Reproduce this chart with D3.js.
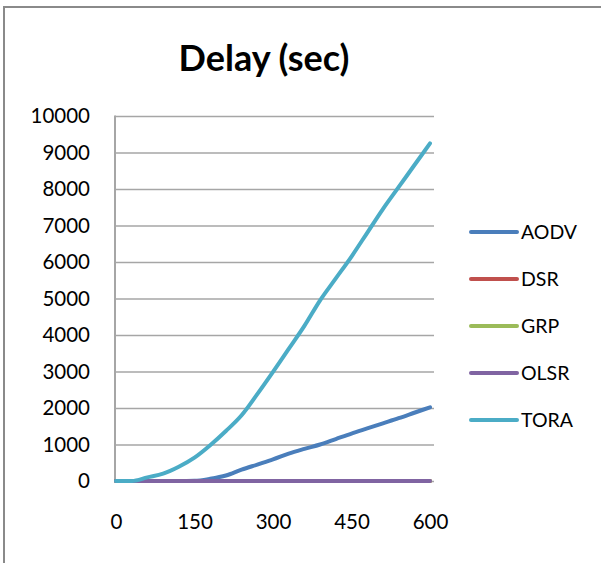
<!DOCTYPE html>
<html>
<head>
<meta charset="utf-8">
<script src="https://cdn.jsdelivr.net/npm/d3@7"></script>
<style>
  html, body { margin: 0; padding: 0; background: #fff; }
  svg { display: block; }
  text { font-family: Lato, "Open Sans", sans-serif; fill: #000; }
</style>
</head>
<body>
<svg id="chart" width="601" height="563"></svg>
<script>
// Simulation time (sec) at which delay was sampled
const times = [0, 30, 60, 90, 120, 150, 180, 210, 240, 270, 300, 330, 360, 390, 420, 450, 480, 510, 540, 570, 600];

// Cumulative delay per routing protocol
const aodv = [0, 0, 0, 0, 0, 5, 60, 150, 310, 450, 590, 750, 880, 1000, 1150, 1300, 1440, 1580, 1720, 1870, 2020];
const dsr  = [0, 0, 0, 0, 0, 0, 0, 0, 0, 0, 0, 0, 0, 0, 0, 0, 0, 0, 0, 0, 0];
const grp  = [0, 0, 0, 0, 0, 0, 0, 0, 0, 0, 0, 0, 0, 0, 0, 0, 0, 0, 0, 0, 0];
const olsr = [0, 0, 0, 0, 0, 0, 0, 0, 0, 0, 0, 0, 0, 0, 0, 0, 0, 0, 0, 0, 0];
const tora = [0, 0, 100, 200, 390, 640, 980, 1370, 1800, 2380, 2990, 3620, 4250, 4950, 5550, 6150, 6800, 7450, 8050, 8650, 9250];

const seriesNames  = ["AODV", "DSR", "GRP", "OLSR", "TORA"];
const seriesValues = [aodv, dsr, grp, olsr, tora];
const seriesColors = ["#4A7EBB", "#C0504D", "#9BBB59", "#8064A2", "#4BACC6"];

const xTicks = [0, 150, 300, 450, 600];
const yTicks = [0, 1000, 2000, 3000, 4000, 5000, 6000, 7000, 8000, 9000, 10000];

const svg = d3.select("#chart");

// Frame of the chart area (top and left edges)
svg.append("line").attr("x1", 4).attr("x2", 601).attr("y1", 7).attr("y2", 7)
  .attr("stroke", "#8a8a8a").attr("stroke-width", 2);
svg.append("line").attr("x1", 4).attr("x2", 4).attr("y1", 6).attr("y2", 563)
  .attr("stroke", "#8a8a8a").attr("stroke-width", 2);

// Title
svg.append("text")
  .attr("x", 264).attr("y", 71)
  .attr("text-anchor", "middle")
  .style("font-size", "36px").style("font-weight", "bold")
  .text("Delay (sec)");

const plotLeft = 115, plotRight = 434, plotTop = 116, plotBottom = 481;

const x = d3.scaleLinear().domain([0, 600]).range([116, 430]);
const y = d3.scaleLinear().domain([0, 10000]).range([plotBottom, plotTop]);

// Horizontal gridlines
const yAxis = d3.axisLeft(y).tickValues(yTicks)
  .tickSize(-(plotRight - plotLeft)).tickPadding(25).tickFormat(d3.format("d"));
const gy = svg.append("g").attr("transform", `translate(${plotLeft},0)`).call(yAxis);
gy.select(".domain").remove();
gy.selectAll(".tick line").attr("stroke", "#a6a6a6").attr("stroke-width", 1.5);
gy.selectAll(".tick text").style("font-size", "20.5px").attr("fill", "#000");

// Vertical axis line
svg.append("line")
  .attr("x1", plotLeft).attr("x2", plotLeft).attr("y1", plotTop - 0.5).attr("y2", plotBottom)
  .attr("stroke", "#a6a6a6").attr("stroke-width", 2);

// X axis labels
const xAxis = d3.axisBottom(x).tickValues(xTicks).tickSize(0).tickPadding(33).tickFormat(d3.format("d"));
const gx = svg.append("g").attr("transform", `translate(0,${plotBottom})`).call(xAxis);
gx.select(".domain").remove();
gx.selectAll(".tick text").style("font-size", "20.5px").attr("fill", "#000");

// Series lines
const line = d3.line().curve(d3.curveMonotoneX).x((d, i) => x(times[i])).y(d => y(d));
seriesValues.forEach((vals, i) => {
  svg.append("path")
    .datum(vals)
    .attr("fill", "none")
    .attr("stroke", seriesColors[i])
    .attr("stroke-width", 4)
    .attr("stroke-linejoin", "round")
    .attr("stroke-linecap", "round")
    .attr("d", line);
});

// Legend
const legend = svg.append("g");
seriesNames.forEach((name, i) => {
  const cy = 232 + i * 47;
  legend.append("line")
    .attr("x1", 471).attr("x2", 517).attr("y1", cy).attr("y2", cy)
    .attr("stroke", seriesColors[i]).attr("stroke-width", 4).attr("stroke-linecap", "round");
  legend.append("text")
    .attr("x", 521).attr("y", cy).attr("dy", "0.35em")
    .style("font-size", "19.5px")
    .text(name);
});
</script>
</body>
</html>
